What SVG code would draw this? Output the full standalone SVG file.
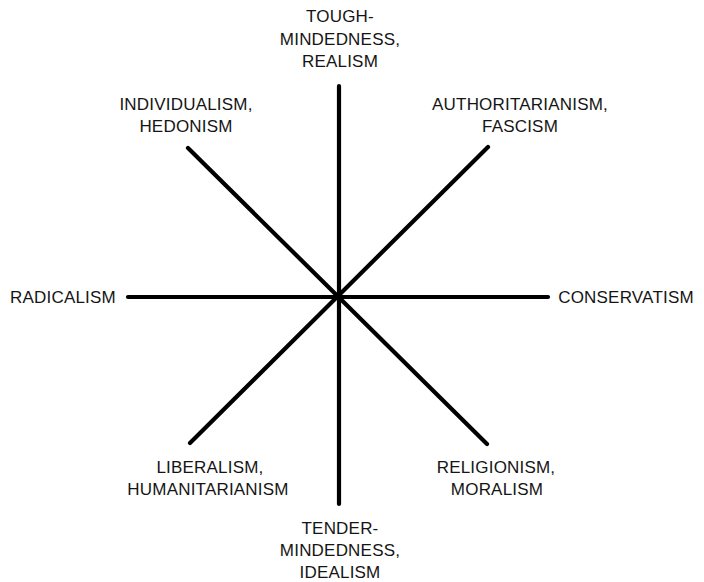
<svg xmlns="http://www.w3.org/2000/svg" width="704" height="582" viewBox="0 0 704 582">
<style>
text{font-family:"Liberation Sans",Arial,sans-serif;font-size:17px;letter-spacing:0.2px;fill:#151515;text-anchor:middle}
.ax{stroke:#000;stroke-width:4.2;stroke-linecap:round;fill:none}
</style>
<rect width="704" height="582" fill="#fff"/>
<g id="connectors">
<line class="ax" x1="339" y1="86" x2="339" y2="504"/>
<line class="ax" x1="128" y1="297" x2="548" y2="297"/>
<line class="ax" x1="188" y1="148" x2="487" y2="444"/>
<line class="ax" x1="488" y1="147" x2="190" y2="443"/>
</g>
<g id="tough"><text x="340" y="22">TOUGH-</text><text x="340" y="45">MINDEDNESS,</text><text x="340" y="67">REALISM</text></g>
<g id="individualism"><text x="186" y="110">INDIVIDUALISM,</text><text x="186" y="132">HEDONISM</text></g>
<g id="authoritarianism"><text x="520" y="110">AUTHORITARIANISM,</text><text x="520" y="132">FASCISM</text></g>
<g id="radicalism"><text x="63" y="303">RADICALISM</text></g>
<g id="conservatism"><text x="626" y="303">CONSERVATISM</text></g>
<g id="liberalism"><text x="210" y="473">LIBERALISM,</text><text x="208" y="495">HUMANITARIANISM</text></g>
<g id="religionism"><text x="496" y="473">RELIGIONISM,</text><text x="497" y="495">MORALISM</text></g>
<g id="tender"><text x="340" y="534">TENDER-</text><text x="340" y="556">MINDEDNESS,</text><text x="340" y="578">IDEALISM</text></g>
</svg>
